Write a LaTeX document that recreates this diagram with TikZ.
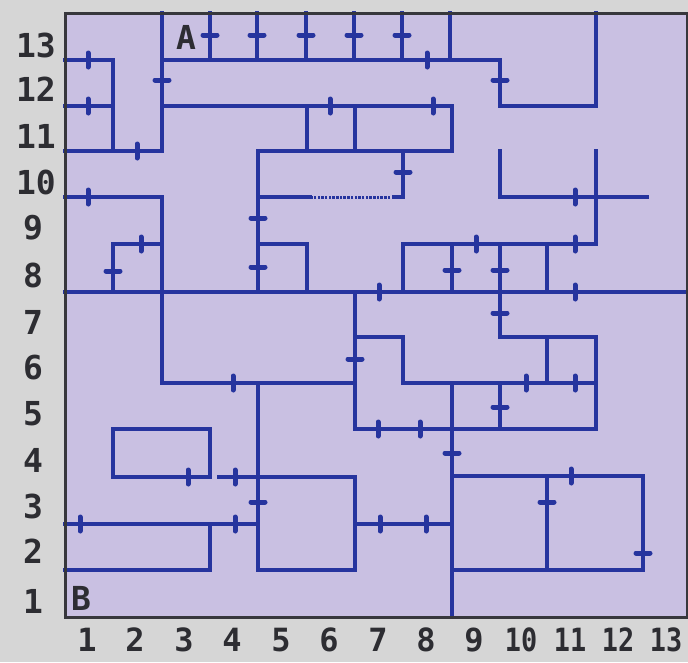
\documentclass[tikz,border=0pt]{standalone}
\usepackage{fontspec}
\newfontfamily\labfont{DejaVu Sans Mono}
\definecolor{outgray}{RGB}{214,214,214}
\definecolor{lav}{RGB}{201,192,226}
\definecolor{mazeblue}{RGB}{38,52,158}
\definecolor{framegray}{RGB}{55,55,60}
\definecolor{txtgray}{RGB}{45,45,50}
\newcommand\tkv[2]{\draw[tk] (#1,#2-7) -- (#1,#2+7);}
\newcommand\tkh[2]{\draw[tk] (#1-7,#2) -- (#1+7,#2);}
\begin{document}
\begin{tikzpicture}[x=1pt,y=-1pt,
  wall/.style={mazeblue,line width=4pt,line cap=rect,line join=miter},
  tk/.style={mazeblue,line width=5pt,line cap=round},
  dotwall/.style={mazeblue,line width=3pt,dash pattern=on 2.5pt off 1.2pt},
  lab/.style={txtgray,font=\labfont\bfseries\fontsize{33}{33}\selectfont,inner sep=0pt},
  blab/.style={lab,font=\labfont\bfseries\fontsize{32}{32}\selectfont}]
\useasboundingbox (0,0) rectangle (688,662);
\fill[outgray] (0,0) rectangle (688,662);
\fill[lav] (65,13) rectangle (687,617);
% walls
\draw[wall] (65,60) -- (113,60) -- (113,151);
\draw[wall] (65,106) -- (113,106);
\draw[wall] (65,151) -- (162,151) -- (162,13);
\draw[wall] (162,60) -- (500,60) -- (500,106) -- (596,106) -- (596,13);
\foreach \xx in {210,257,306,354,402,450} \draw[wall] (\xx,13) -- (\xx,60);
\draw[wall] (162,106) -- (452,106) -- (452,151) -- (258,151) -- (258,292);
\draw[wall] (307,106) -- (307,151);
\draw[wall] (355,106) -- (355,151);
\draw[wall] (403,151) -- (403,197) -- (394,197);
\draw[dotwall] (394,197) -- (310,197);
\draw[wall] (310,197) -- (258,197);
\draw[wall] (500,151) -- (500,197) -- (647,197);
\draw[wall] (596,151) -- (596,244) -- (403,244) -- (403,292);
\draw[wall] (65,197) -- (162,197) -- (162,383) -- (355,383);
\draw[wall] (113,292) -- (113,244) -- (162,244);
\draw[wall] (65,292) -- (687,292);
\draw[wall] (258,244) -- (307,244) -- (307,292);
\draw[wall] (452,244) -- (452,292);
\draw[wall] (547,244) -- (547,292);
\draw[wall] (500,244) -- (500,337) -- (596,337) -- (596,429);
\draw[wall] (547,337) -- (547,383);
\draw[wall] (355,292) -- (355,429) -- (596,429);
\draw[wall] (355,337) -- (403,337) -- (403,383) -- (596,383);
\draw[wall] (500,383) -- (500,429);
\draw[wall] (452,383) -- (452,615);
\draw[wall] (258,383) -- (258,570) -- (355,570) -- (355,477) -- (219,477);
\draw[wall] (113,429) rectangle (210,477);
\draw[wall] (65,524) -- (258,524);
\draw[wall] (210,524) -- (210,570) -- (65,570);
\draw[wall] (355,524) -- (452,524);
\draw[wall] (452,476) -- (643,476) -- (643,570) -- (452,570);
\draw[wall] (547,476) -- (547,570);
% ticks across horizontal walls
\tkv{88}{60} \tkv{88}{106} \tkv{137}{151} \tkv{427}{60} \tkv{330}{106}
\tkv{433}{106} \tkv{575}{197} \tkv{88}{197} \tkv{141}{244} \tkv{379}{292}
\tkv{575}{292} \tkv{476}{244} \tkv{575}{244} \tkv{526}{383} \tkv{575}{383}
\tkv{233}{383} \tkv{378}{429} \tkv{420}{429} \tkv{188}{477} \tkv{235}{477}
\tkv{80}{524} \tkv{235}{524} \tkv{380}{524} \tkv{426}{524} \tkv{571}{476}
% ticks across vertical walls
\tkh{162}{80} \tkh{210}{35} \tkh{257}{35} \tkh{306}{35} \tkh{354}{35}
\tkh{402}{35} \tkh{500}{80} \tkh{258}{218} \tkh{258}{267} \tkh{403}{172}
\tkh{113}{271} \tkh{452}{270} \tkh{500}{270} \tkh{500}{313} \tkh{355}{359}
\tkh{258}{502} \tkh{452}{453} \tkh{500}{407} \tkh{643}{553} \tkh{547}{502}
% frame
\draw[framegray,line width=3pt] (65,13) rectangle (687,617);
% labels
\node[lab] (la) at (186,37) {A};
\node[lab] (lb) at (81,598) {B};
\node[lab] (y13) at (36,45) {13};
\node[lab] (y12) at (36,89) {12};
\node[lab] (y11) at (36,136) {11};
\node[lab] (y10) at (36,182) {10};
\node[lab] (y9) at (33,228) {9};
\node[lab] (y8) at (33,275) {8};
\node[lab] (y7) at (33,322) {7};
\node[lab] (y6) at (33,368) {6};
\node[lab] (y5) at (33,414) {5};
\node[lab] (y4) at (33,460) {4};
\node[lab] (y3) at (33,506) {3};
\node[lab] (y2) at (33,551) {2};
\node[lab] (y1) at (33,601) {1};
\node[blab] (x1) at (87,640) {1};
\node[blab] (x2) at (135,640) {2};
\node[blab] (x3) at (184,640) {3};
\node[blab] (x4) at (232,640) {4};
\node[blab] (x5) at (281,640) {5};
\node[blab] (x6) at (329,640) {6};
\node[blab] (x7) at (378,640) {7};
\node[blab] (x8) at (426,640) {8};
\node[blab] (x9) at (474,640) {9};
\node[blab,xscale=0.84] (x10) at (521,640) {10};
\node[blab,xscale=0.84] (x11) at (570,640) {11};
\node[blab,xscale=0.84] (x12) at (618,640) {12};
\node[blab,xscale=0.84] (x13) at (666,640) {13};
\end{tikzpicture}
\end{document}
